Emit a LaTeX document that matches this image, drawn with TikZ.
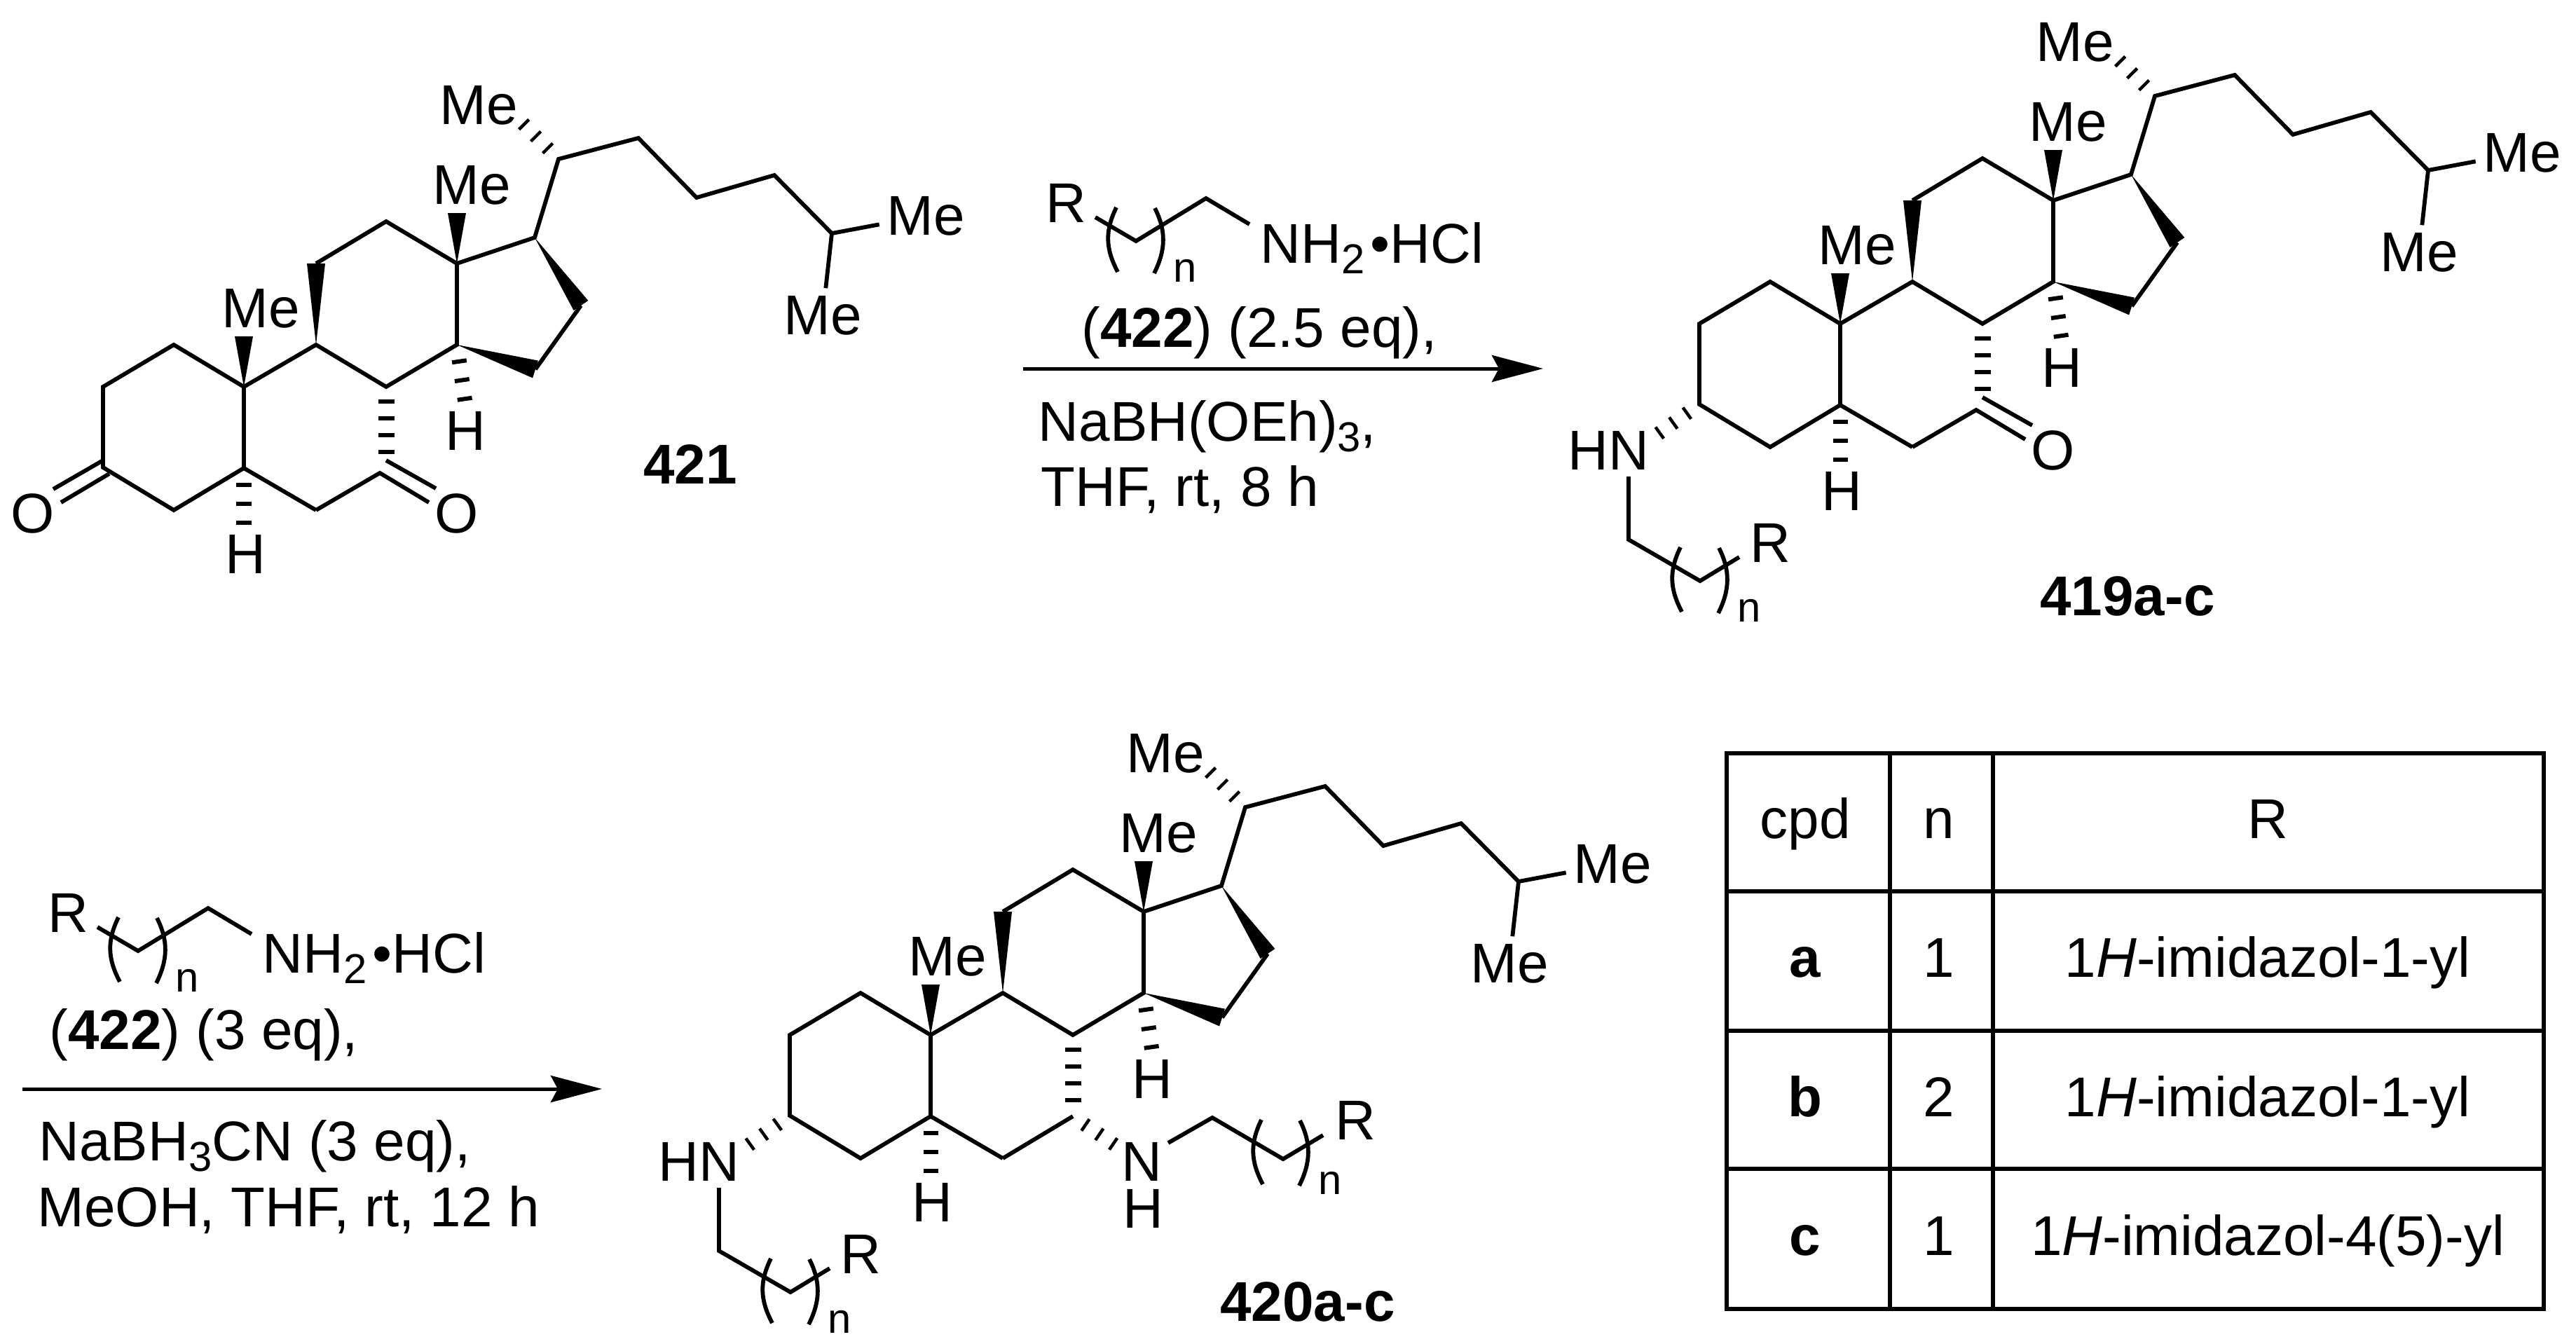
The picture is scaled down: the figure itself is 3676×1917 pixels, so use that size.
\documentclass[tikz,border=0pt]{standalone}
\usepackage{fontspec}
\setmainfont{Liberation Sans}
\usetikzlibrary{calc,arrows.meta}

\newcommand{\wedgebond}[3]{\fill ($(#2)!#3!90:(#1)$) -- (#1) -- ($(#2)!#3!-90:(#1)$) -- cycle;}
\newcommand{\subtext}[1]{\raisebox{-0.19em}{\fontsize{17pt}{20pt}\selectfont #1}}

\tikzset{
  bond/.style={line width=0.058cm},
  hashbond/.style={line width=0.21cm, dash pattern=on 0.06cm off 0.21cm, dash phase=0.06cm},
  hashlong/.style={line width=0.23cm, dash pattern=on 0.06cm off 0.18cm, dash phase=0.06cm, shorten >=0.1cm},
  hashthin/.style={line width=0.2cm, dash pattern=on 0.045cm off 0.195cm, dash phase=0.045cm},
  lbl/.style={font=\fontsize{22.76pt}{27pt}\selectfont, inner sep=0pt, anchor=base},
  melbl/.style={lbl, inner sep=0.1cm},
  leftlbl/.style={lbl, anchor=base west},
  sublbl/.style={font=\fontsize{17pt}{20pt}\selectfont, inner sep=0pt, anchor=base},
  rxnarrow/.style={line width=0.05cm, -{Stealth[length=0.73cm, width=0.38cm, inset=0.1cm]}},
  tblline/.style={line width=0.055cm, line cap=rect},
  nrepeat/.pic={
    \draw[bond] (-28,-48) .. controls (-44,-15) and (-44,10) .. (-26,44);
    \draw[bond] (27,-47) .. controls (43,-15) and (43,12) .. (26,46);
    \node[sublbl] (nsub) at (70,58) {n};
  },
  steroid/.pic={
    \foreach \atom/\x/\y in {c1/248/492, c2/147/552, c3/147/667, c4/248/728, c5/348/668, c6/451/728,
      c7/551/668, c8/551/552, c9/451/492, c10/348/552, c11/451/376, c12/551/316, c13/652/376,
      c14/652/492, c15/764/527, c16/829/436, c17/763/339, c20/797/227, c22/911/197, c23/994/282,
      c24/1105/250, c25/1187/333, m18/652/304, m19/348/480, m21/744/174, h5/348/758, h14/665/582}
      \coordinate (\atom) at (\x,\y);
    \node[lbl] (me21) at (683,177) {Me};
    \node[lbl] (me18) at (673,291) {Me};
    \node[lbl] (me19) at (372,467) {Me};
    \node[melbl] (me26) at (1321,335) {Me};
    \node[melbl] (me27) at (1174,477) {Me};
    \node[lbl] (hfive) at (350,818) {H};
    \node[lbl] (hfourteen) at (664,642) {H};
    \draw[bond] (c10) -- (c1) -- (c2) -- (c3) -- (c4) -- (c5) -- (c10) -- (c9) -- (c8) -- (c14) -- (c13) -- (c12) -- (c11);
    \draw[bond] (c13) -- (c17) -- (c20) -- (c22) -- (c23) -- (c24) -- (c25) -- (me26);
    \draw[bond] (c25) -- (me27);
    \draw[bond] (c15) -- (c16);
    \draw[bond] (c5) -- (c6);
    \wedgebond{c13}{m18}{0.13cm}
    \wedgebond{c10}{m19}{0.13cm}
    \wedgebond{c9}{c11}{0.13cm}
    \wedgebond{c14}{c15}{0.13cm}
    \wedgebond{c17}{c16}{0.125cm}
    \draw[hashlong] (c8) -- (c7);
    \draw[hashbond] (c5) -- (h5);
    \draw[hashbond] (c14) -- (h14);
    \draw[hashthin] (c20) -- (m21);
  },
  ketone/.pic={
    \coordinate (k1) at (551,657);
    \coordinate (k2) at (622,697);
    \coordinate (k3) at (542,675);
    \coordinate (k4) at (612,717);
    \node[lbl] (oxo) at (652,760) {O};
    \draw[bond] (c6) -- (k3) -- (k4);
    \draw[bond] (k1) -- (k2);
  },
  aminoarm/.pic={
    \coordinate (n1) at (87,710);
    \coordinate (n2) at (46,770);
    \coordinate (n3) at (46,860);
    \coordinate (n4) at (148,919);
    \coordinate (n5) at (204,885);
    \node[lbl] (hn) at (17,760) {HN};
    \node[lbl] (rone) at (248,892) {R};
    \draw[hashthin] (c3) -- (n1);
    \draw[bond] (n2) -- (n3) -- (n4) -- (n5);
    \pic at (n4) {nrepeat};
  },
  amine/.pic={
    \coordinate (b1) at (-58,-34);
    \coordinate (b2) at (0,0);
    \coordinate (b3) at (100,-61);
    \coordinate (b4) at (162,-24);
    \node[lbl] (rgroup) at (-100,-27) {R};
    \node[leftlbl] (salt) at (177,31) {NH\subtext{2}\hspace{0.1em}•HCl};
    \draw[bond] (b1) -- (b2) -- (b3) -- (b4);
    \pic at (b2) {nrepeat};
  }
}

\begin{document}
\begin{tikzpicture}[x=0.01cm,y=-0.01cm]
      \useasboundingbox (0,0) rectangle (3676,1917);

      \pic (s-) at (0,0) {steroid};
      \pic (s-) at (0,0) {ketone};
      \coordinate (s-q1) at (147,657);
      \coordinate (s-q2) at (76,698);
      \coordinate (s-q3) at (156,676);
      \coordinate (s-q4) at (87,717);
      \node[lbl] (s-oxo2) at (47,760) {O};
      \draw[bond] (s-q1) -- (s-q2);
      \draw[bond] (s-q3) -- (s-q4);
      \node[lbl] (s-label) at (985,690) {\bfseries 421};

      \pic (k-) at (2278,-90) {steroid};
      \pic (k-) at (2278,-90) {ketone};
      \pic (k-) at (2278,-90) {aminoarm};
      \node[lbl] (k-label) at (3036,878) {\bfseries 419a-c};

      \pic (d-) at (980,925) {steroid};
      \pic (d-) at (980,925) {aminoarm};
      \coordinate (d-p1) at (1591,1634);
      \coordinate (d-p2) at (1667,1631);
      \coordinate (d-p3) at (1730,1595);
      \coordinate (d-p4) at (1831,1654);
      \coordinate (d-p5) at (1888,1620);
      \node[lbl] (d-n) at (1629,1685) {N};
      \node[lbl] (d-h) at (1631,1752) {H};
      \node[lbl] (d-r) at (1934,1626) {R};
      \draw[bond] (d-c6) -- (d-c7);
      \draw[hashthin] (d-c7) -- (d-p1);
      \draw[bond] (d-p2) -- (d-p3) -- (d-p4) -- (d-p5);
      \pic (d-) at (1828,1646) {nrepeat};
      \node[lbl] (d-label) at (1866,1885) {\bfseries 420a-c};

      \pic (u-) at (1621,344) {amine};
      \node[lbl] (u-eq) at (1797,495) {(\textbf{422}) (2.5 eq),};
      \coordinate (u-start) at (1460,526);
      \coordinate (u-end) at (2202,526);
      \draw[rxnarrow] (u-start) -- (u-end);
      \node[leftlbl] (u-hydride) at (1481,629) {NaBH(OEh)\subtext{3},};
      \node[leftlbl] (u-cond) at (1485,722) {THF, rt, 8 h};

      \pic (v-) at (197,1357) {amine};
      \node[lbl] (v-eq) at (291,1497) {(\textbf{422}) (3 eq),};
      \coordinate (v-start) at (32,1554);
      \coordinate (v-end) at (859,1554);
      \draw[rxnarrow] (v-start) -- (v-end);
      \node[leftlbl] (v-hydride) at (55,1656) {NaBH\subtext{3}CN (3 eq),};
      \node[leftlbl] (v-cond) at (53,1750) {MeOH, THF, rt, 12 h};

      \foreach \y in {1075,1272,1471,1668,1868}
        \draw[tblline] (2464,\y) -- (3630,\y);
      \foreach \x in {2464,2697,2844,3630}
        \draw[tblline] (\x,1075) -- (\x,1868);
      \node[lbl] (head-cpd) at (2576,1196) {cpd};
      \node[lbl] (head-n) at (2767,1196) {n};
      \node[lbl] (head-r) at (3236,1196) {R};
      \foreach \row/\y/\num/\sub in {a/1394/1/1, b/1593/2/1, c/1791/1/4(5)} {
        \node[lbl] (cpd-\row) at (2576,\y) {\bfseries \row};
        \node[lbl] (n-\row) at (2767,\y) {\num};
        \node[lbl] (r-\row) at (3236,\y) {1\textit{H}-imidazol-\sub-yl};
      }
    \end{tikzpicture}
\end{document}
